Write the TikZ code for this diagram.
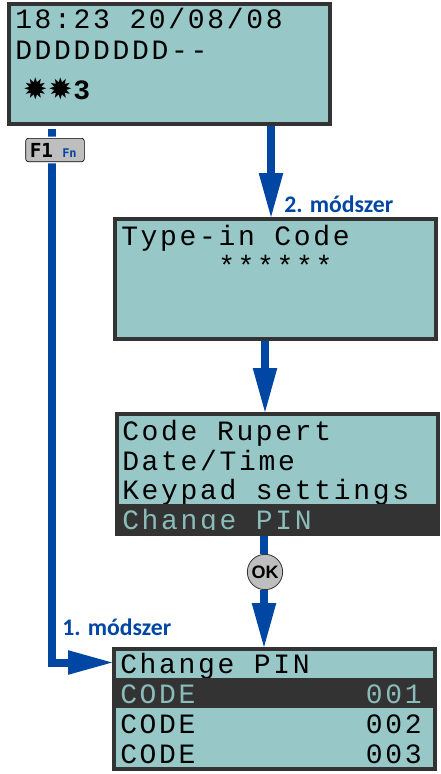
\documentclass[tikz,border=0pt]{standalone}
\usepackage{fontspec}
\usetikzlibrary{arrows.meta}
\newfontfamily\lcdfont[LetterSpace=9.6]{Liberation Mono}
\newfontfamily\starfont{DejaVu Sans}
\newfontfamily\labelfont{Carlito}
\newfontfamily\keyfont{DejaVu Sans Mono}
\newfontfamily\okfont{Liberation Sans}
\definecolor{lcdbg}{HTML}{97C7C7}
\definecolor{lcdedge}{HTML}{333333}
\definecolor{lcddim}{HTML}{8ABDB9}
\definecolor{flow}{HTML}{0047A3}
\definecolor{keygrey}{HTML}{BEBEBE}
\tikzset{
  x=0.75pt,y=-0.75pt,
  panel/.style={draw=lcdedge,fill=lcdbg,line width=3pt,inner sep=0pt,minimum width=240.75pt,minimum height=90pt,anchor=north west},
  darkrow/.style={fill=lcdedge,draw=none,inner sep=0pt,outer sep=0pt,anchor=north west,minimum width=243.75pt},
  lcd/.style={anchor=base west,inner sep=0pt,text=black,font=\lcdfont\fontsize{21}{21}\selectfont},
  lcdinv/.style={lcd,text=lcddim},
  flowline/.style={draw=flow,line width=6pt},
  flowarrow/.style={flowline,-{Triangle[length=33pt,width=18.5pt,line width=0pt,fill=flow]}},
  methodlabel/.style={anchor=base west,inner sep=0pt,text=flow,font=\labelfont\bfseries\fontsize{17.8}{17.8}\selectfont},
  fkey/.style={draw=black,line width=0.5pt,fill=keygrey,rounded corners=2pt,inner sep=0pt,minimum width=44pt,minimum height=17.5pt,preaction={draw=white,line width=2.5pt}},
  okkey/.style={circle,draw=lcdedge,line width=0.6pt,fill=keygrey,inner sep=0pt,minimum size=26.5pt,text=black,font=\okfont\bfseries\fontsize{13.5}{13.5}\selectfont},
  sunglyph/.style={anchor=base west,inner sep=0pt,font=\starfont\fontsize{22}{22}\selectfont},
}
\begin{document}
\begin{tikzpicture}
\useasboundingbox (0,0) rectangle (440,774);
\fill[white] (0,0) rectangle (440,774);
% coordinates for free ends
\coordinate (start) at (52,129);
\coordinate (corner) at (52,662.5);
\coordinate (a1) at (271,217);
\coordinate (a2) at (265,341);
\coordinate (a3) at (264,536);
% panels
\node[panel] (p1) at (7,2) {};
\node[panel] (p2) at (113,217) {};
\node[panel] (p3) at (115,412) {};
\node[panel] (p4) at (112,647) {};
% connectors
\draw[flowarrow] (p1.south -| a1) -- (p2.north -| a1);
\draw[flowarrow] (p2.south -| a2) -- (p3.north -| a2);
\node[okkey] (ok) at (265,572) {OK};
\draw[flowline] (p3.south -| a3) -- (ok.north -| a3);
\draw[flowarrow] (ok.south -| a3) -- (p4.north -| a3);
\draw[flowarrow] (start) -- (corner) -- (p4.west |- corner);
\node[fkey] (f1) at (55,150) {};
\node[anchor=base west,inner sep=0pt,font=\keyfont\bfseries\fontsize{14.5}{14.5}\selectfont] (f1a) at (29.5,157) {F1};
\node[anchor=base west,inner sep=0pt,text=flow,font=\keyfont\bfseries\fontsize{9}{9}\selectfont] (f1b) at (62,157) {Fn};
% panel 1
\node[lcd] (t11) at (15,29) {18:23 20/08/08};
\node[lcd] (t12) at (15,60) {DDDDDDDD--};
\node[sunglyph] (s1) at (23,99) {✹};
\node[sunglyph] (s2) at (48,99) {✹};
\node[anchor=base west,inner sep=0pt,font=\lcdfont\bfseries\fontsize{21}{21}\selectfont] (t14) at (73,99) {3};
% panel 2
\node[lcd] (t21) at (121,245) {Type-in Code};
\node[lcd] (t22) at (218,275) {******};
% panel 3
\node[lcd] (t31) at (122,440) {Code Rupert};
\node[lcd] (t32) at (122,470) {Date/Time};
\node[lcd] (t33) at (122,499) {Keypad settings};
\node[darkrow,minimum height=24pt] (r3) at (115,504) {};
\node[lcdinv] (t34) at (122,529) {Change PIN};
\fill[lcdedge] (r3.west |- 0,530) rectangle (r3.south east);
% panel 4
\node[lcd] (t41) at (120,673) {Change PIN};
\node[darkrow,minimum height=22.5pt] (r4) at (112,678) {};
\node[lcdinv] (t42) at (120,703) {CODE};
\node[lcdinv,anchor=base east] (t43) at (422,703) {001};
\node[lcd] (t44) at (120,733) {CODE};
\node[lcd,anchor=base east] (t45) at (422,733) {002};
\node[lcd] (t46) at (120,763) {CODE};
\node[lcd,anchor=base east] (t47) at (422,763) {003};
% labels
\node[methodlabel] (m2) at (284,212) {2. módszer};
\node[methodlabel] (m1) at (62,635) {1. módszer};
\end{tikzpicture}
\end{document}
